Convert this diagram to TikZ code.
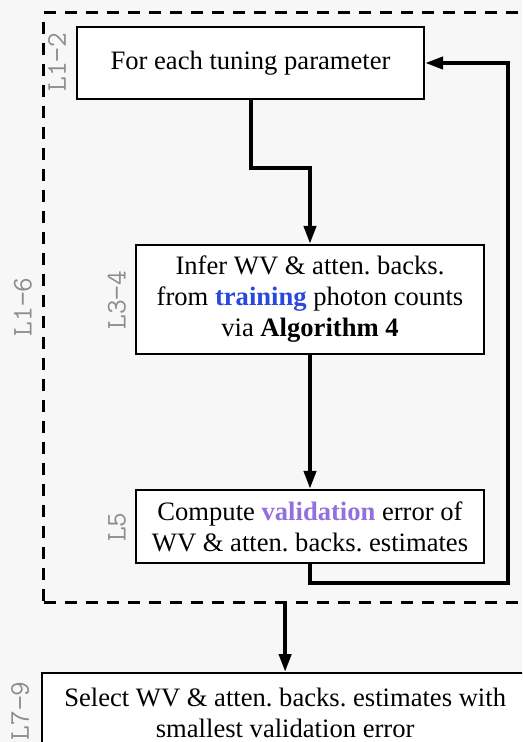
\documentclass[tikz,border=0pt]{standalone}
\usepackage{fontspec}
\setmainfont{Liberation Serif}
\usetikzlibrary{arrows.meta}
\definecolor{bgc}{HTML}{F7F7F7}
\definecolor{trainc}{RGB}{40,72,222}
\definecolor{valc}{RGB}{147,112,219}
\definecolor{labc}{HTML}{8C8C8C}
\tikzset{
  stepbox/.style={draw=black, line width=0.9pt, fill=white, align=center, inner sep=0pt,
    font=\fontsize{10.64}{12.4}\selectfont},
  arr/.style={line width=1.6pt, -{Triangle[length=7.2pt,width=4.8pt]}},
  loopbox/.style={draw=black, line width=1.2pt, dash pattern=on 4.8pt off 3.6pt, inner sep=0pt},
  linelab/.style={rotate=90, text=labc, font=\ttfamily\fontsize{11.4}{13}\selectfont, inner sep=0pt}
}
\begin{document}
\begin{tikzpicture}[x=0.4pt,y=-0.4pt]
\fill[bgc] (0,0) rectangle (522,742);
\useasboundingbox (0,0) rectangle (522,742);
\clip (0,0) rectangle (522,742);
% dashed loop frame
\node[loopbox, anchor=north west, minimum width=195.2pt, minimum height=236pt] (loop) at (42,11) {};
% boxes
\node[stepbox, minimum width=138.8pt, minimum height=28.8pt] (b1) at (250.5,63) {For each tuning parameter};
\node[stepbox, minimum width=139.2pt, minimum height=43.6pt] (b2) at (310,299.5)
  {Infer WV \& atten.\ backs.\\ from \textcolor{trainc}{\textbf{training}} photon counts\\ via \textbf{Algorithm 4}};
\node[stepbox, minimum width=139.2pt, minimum height=29.2pt] (b3) at (310,526.5)
  {Compute \textcolor{valc}{\textbf{validation}} error of\\ WV \& atten.\ backs.\ estimates};
\node[stepbox, anchor=north west, minimum width=194.4pt, minimum height=32pt] (b4) at (41,672)
  {Select WV \& atten.\ backs.\ estimates with\\ smallest validation error};
% line labels
\node[linelab] (l12) at (57,62) {L1−2};
\node[linelab] (l16) at (23,307) {L1−6};
\node[linelab] (l34) at (117,300) {L3−4};
\node[linelab] (l5) at (117,527) {L5};
\node[linelab] (l79) at (20,711) {L7−9};
% connectors
\coordinate (c1) at (0,168);
\coordinate (lp) at (508,583);
\draw[arr] (b1.south) -- (b1.south |- c1) -- (b2.north |- c1) -- (b2.north);
\draw[arr] (b2.south) -- (b3.north);
\draw[arr] (b3.south) |- (lp) |- (b1.east);
\draw[arr] (b4.north |- loop.south) -- (b4.north);
\end{tikzpicture}
\end{document}
